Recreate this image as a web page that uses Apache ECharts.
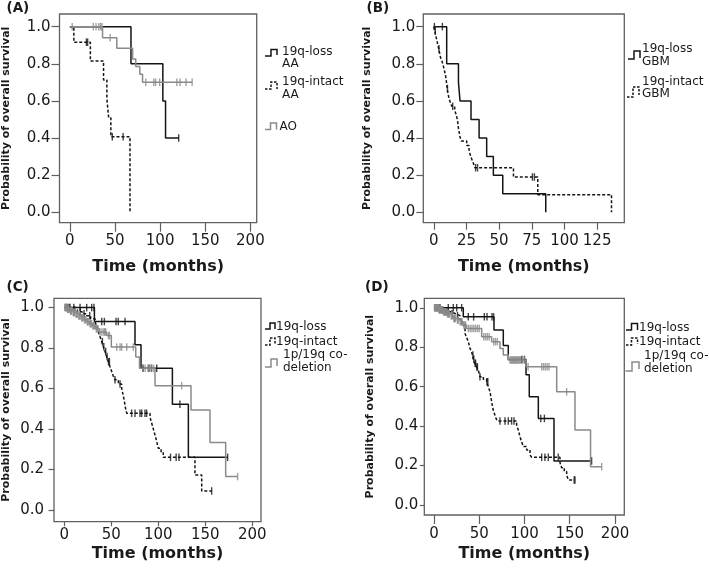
<!DOCTYPE html>
<html><head><meta charset="utf-8">
<script src="https://cdn.jsdelivr.net/npm/echarts@6/dist/echarts.min.js"></script>
<style>html,body{margin:0;padding:0;background:#fff}#c{width:709px;height:569px}</style>
</head><body><div id="c"></div>
<script>
// ---------- tick labels ----------
const tickX200 = [0, 50, 100, 150, 200];
const tickX125 = [0, 25, 50, 75, 100, 125];
const tickY = [0, 0.2, 0.4, 0.6, 0.8, 1.0];

// ---------- Panel A (AA / AO) ----------
const aLossT = [0, 67.7, 103, 106, 120.6];
const aLossS = [1, 0.8, 0.6, 0.4, 0.4];
const aLossC = [120.6];
const aIntactT = [0, 4.4, 22.7, 37.3, 41, 43, 45.4, 66.6];
const aIntactS = [1, 0.916, 0.815, 0.713, 0.611, 0.509, 0.407, 0];
const aIntactC = [18.3, 19.7, 47, 59];
const aAOT = [0, 36.2, 52, 69.5, 73, 77.5, 80.5, 135.5];
const aAOS = [1, 0.94, 0.884, 0.826, 0.785, 0.744, 0.70, 0.70];
const aAOC = [2.6, 26, 29, 32, 34, 35.5, 44.6, 84, 93, 95, 99.5, 118.5, 122, 128.7, 135.5];

// ---------- Panel B (GBM) ----------
const bLossT = [0, 9.9, 18.9, 20.1, 28.5, 34.7, 40.5, 45.6, 52.8, 85.7];
const bLossS = [1, 0.8, 0.7, 0.6, 0.5, 0.4, 0.3, 0.2, 0.1, 0];
const bLossC = [0.5, 6.6];
const bIntactT = [0, 0.8, 1.5, 2.3, 3, 3.8, 4.5, 5.2, 6.5, 7.4, 8.2, 9, 9.5, 9.9, 10.3, 10.8, 11.5, 12.5, 13.8, 16, 17.3, 18, 18.5, 18.9, 19.5, 20.1, 21, 25.2, 27, 27.8, 29, 30.3, 31.5, 61, 79.6, 136];
const bIntactS = [1, 0.976, 0.952, 0.929, 0.905, 0.881, 0.857, 0.833, 0.81, 0.786, 0.762, 0.738, 0.714, 0.69, 0.667, 0.643, 0.619, 0.595, 0.571, 0.548, 0.524, 0.5, 0.476, 0.452, 0.429, 0.405, 0.384, 0.36, 0.336, 0.312, 0.288, 0.264, 0.24, 0.19, 0.095, 0];
const bIntactC = [1.2, 4, 10.5, 14.5, 32, 33.5, 75.5, 77];

// ---------- Panel C ----------
const cLossT = [0, 32, 75.2, 81.6, 115, 132, 173.8];
const cLossS = [1, 0.931, 0.816, 0.70, 0.522, 0.26, 0.26];
const cLossC = [5, 10, 16.7, 23.8, 29.1, 31.5, 39.8, 42.6, 55, 57.4, 64.6, 83.7, 90, 92.7, 98.3, 123, 173.8];
const cIntactT = [0, 8, 14, 19, 24, 28, 32.7, 34.5, 36.2, 38, 39.8, 41.5, 43.3, 45, 46.8, 48.6, 50.4, 52, 53.9, 57.5, 61, 62.5, 64, 65, 66.4, 91.2, 92.5, 94, 95.5, 97, 98.3, 100, 103, 105.3, 139, 146.2, 156.8];
const cIntactS = [1, 0.99, 0.98, 0.97, 0.96, 0.945, 0.931, 0.906, 0.881, 0.856, 0.832, 0.807, 0.783, 0.758, 0.733, 0.708, 0.684, 0.663, 0.643, 0.622, 0.601, 0.57, 0.535, 0.505, 0.478, 0.457, 0.437, 0.412, 0.387, 0.362, 0.338, 0.305, 0.283, 0.26, 0.173, 0.094, 0.094];
const cIntactC = [3, 6, 11, 17, 21, 27, 40.5, 42, 44, 45.5, 47, 48, 53.9, 59.3, 71.6, 75.2, 80.5, 82.3, 85.8, 87.6, 113, 119, 122, 156.8];
const cCodelT = [0, 3, 6, 9, 12, 15, 18, 21, 24, 27, 30, 33, 37, 45, 50, 76, 80, 96.5, 134.8, 155, 171.7, 184.4];
const cCodelS = [1, 0.992, 0.984, 0.976, 0.968, 0.959, 0.95, 0.94, 0.93, 0.92, 0.91, 0.895, 0.88, 0.862, 0.805, 0.756, 0.70, 0.614, 0.494, 0.333, 0.165, 0.165];
const cCodelC = [0.5, 1, 1.5, 2, 2.5, 3.5, 4, 4.5, 5, 6.5, 7, 7.5, 8, 9.5, 10, 10.5, 11, 12.5, 13, 14, 15.5, 16, 17, 18.5, 19, 20, 21.5, 22, 23, 24.5, 25, 26, 27.5, 28, 29, 30.5, 31, 32, 34, 35, 36, 38, 40, 42, 43, 44, 47, 48, 55.7, 59.3, 61, 66.4, 73.4, 86, 89, 91, 93, 95, 124.9, 184.4];

// ---------- Panel D ----------
const dLossT = [0, 32.4, 66.3, 76.6, 82.1, 101.7, 105.3, 115.3, 132.6, 174.2];
const dLossS = [1, 0.954, 0.887, 0.808, 0.738, 0.66, 0.549, 0.439, 0.223, 0.223];
const dLossC = [6.6, 15.8, 21.3, 25.1, 30.6, 37.9, 43.8, 55.6, 58.6, 64.1, 65.9, 97, 100, 118, 122, 174.2];
const dIntactT = [0, 6, 12, 18, 24, 28.7, 31, 34.3, 36, 37.9, 39.8, 41.6, 42.5, 43.5, 45, 47, 49, 50.8, 54.5, 58.2, 60, 61.9, 62.8, 63.7, 64.6, 65.5, 67, 68.5, 70, 91.3, 93.2, 95, 96.8, 98.7, 102.4, 106.1, 107.9, 139.2, 141.1, 144, 146.6, 148.4, 155.8];
const dIntactS = [1, 0.99, 0.98, 0.97, 0.96, 0.94, 0.91, 0.87, 0.85, 0.828, 0.794, 0.776, 0.76, 0.74, 0.718, 0.70, 0.684, 0.65, 0.638, 0.625, 0.60, 0.574, 0.55, 0.524, 0.50, 0.481, 0.46, 0.439, 0.426, 0.405, 0.38, 0.346, 0.321, 0.296, 0.279, 0.253, 0.242, 0.215, 0.189, 0.17, 0.152, 0.127, 0.127];
const dIntactC = [4, 9, 14, 20, 26, 43, 44, 45.5, 46, 47.5, 48, 50.8, 58.5, 59.5, 72.9, 78.5, 82.1, 85.8, 88.4, 119, 122.6, 126.3, 137.3, 154.9, 155.8];
const dCodelT = [0, 5, 10, 14, 18, 21, 25, 28.7, 32, 36, 52.7, 63.7, 72.9, 76.6, 82.1, 101.7, 135.6, 155.8, 173, 185.3];
const dCodelS = [1, 0.99, 0.98, 0.97, 0.96, 0.946, 0.937, 0.929, 0.912, 0.895, 0.853, 0.828, 0.794, 0.76, 0.735, 0.701, 0.574, 0.38, 0.194, 0.194];
const dCodelC = [0.5, 1, 1.5, 2, 2.5, 3, 3.5, 4, 4.5, 5.5, 6, 6.5, 7, 7.5, 8, 8.5, 9, 9.5, 10.5, 11, 11.5, 12, 12.5, 13, 13.5, 15, 15.5, 16, 16.5, 17, 19, 19.5, 20, 22, 22.5, 23, 24, 26, 27, 29, 30, 31, 33, 34, 35, 38, 40, 42, 44, 46, 48, 50, 55, 57, 59, 61, 66, 68, 70, 84, 85, 86, 87, 88, 89, 90, 91, 92, 93, 94, 95, 96, 98, 100, 104, 119, 121, 123, 125, 127, 146.6, 185.3];

// ---------- styling ----------
const BLACK = '#141414', GRAY = '#8a8a8a', TXT = '#1a1a1a', FRAME = '#606060';
const FONT = 'DejaVu Sans';

function steps(T, S) { return T.map((t, i) => [t, S[i]]); }
function valAt(T, S, c) { let v = S[0]; for (let i = 0; i < T.length; i++) { if (T[i] <= c) v = S[i]; } return v; }
function cens(T, S, C) { return C.map(c => [c, valAt(T, S, c)]); }

const panels = [
  { grid: { left: 59.3, top: 14, width: 197.4, height: 208.7 },
    xMin: -11.5, xMax: 207, xTicks: tickX200, yMin: -0.056, yMax: 1.068,
    xTick: 9, yTick: 8, xMargin: 11, yMargin: 9, xGap: 36, yGap: 47.5,
    curves: [
      { T: aLossT, S: aLossS, C: aLossC, color: BLACK, dash: false },
      { T: aIntactT, S: aIntactS, C: aIntactC, color: BLACK, dash: true },
      { T: aAOT, S: aAOS, C: aAOC, color: GRAY, dash: false } ] },
  { grid: { left: 423.3, top: 14, width: 201, height: 208.7 },
    xMin: -8, xMax: 145.8, xTicks: tickX125, yMin: -0.056, yMax: 1.068,
    xTick: 7, yTick: 7, xMargin: 11, yMargin: 8, xGap: 36, yGap: 51,
    curves: [
      { T: bLossT, S: bLossS, C: bLossC, color: BLACK, dash: false },
      { T: bIntactT, S: bIntactS, C: bIntactC, color: BLACK, dash: true } ] },
  { grid: { left: 54, top: 298.3, width: 207, height: 223.4 },
    xMin: -11, xMax: 209.3, xTicks: tickX200, yMin: -0.058, yMax: 1.046,
    xTick: 4.5, yTick: 5.5, xMargin: 6, yMargin: 10, xGap: 24, yGap: 42,
    curves: [
      { T: cLossT, S: cLossS, C: cLossC, color: BLACK, dash: false },
      { T: cIntactT, S: cIntactS, C: cIntactC, color: BLACK, dash: true },
      { T: cCodelT, S: cCodelS, C: cCodelC, color: GRAY, dash: false } ] },
  { grid: { left: 424.3, top: 298.3, width: 200, height: 216.7 },
    xMin: -10.7, xMax: 210.3, xTicks: tickX200, yMin: -0.051, yMax: 1.048,
    xTick: 9, yTick: 4.5, xMargin: 12, yMargin: 6, xGap: 31, yGap: 49,
    curves: [
      { T: dLossT, S: dLossS, C: dLossC, color: BLACK, dash: false },
      { T: dIntactT, S: dIntactS, C: dIntactC, color: BLACK, dash: true },
      { T: dCodelT, S: dCodelS, C: dCodelC, color: GRAY, dash: false } ] }
];

const grids = [], xAxes = [], yAxes = [], series = [];
panels.forEach((p, i) => {
  grids.push(Object.assign({ show: true, borderColor: FRAME, borderWidth: 1.3, backgroundColor: 'transparent' }, p.grid));
  xAxes.push({
    gridIndex: i, type: 'value', min: p.xMin, max: p.xMax,
    axisLine: { show: false, onZero: false },
    axisTick: { show: true, length: p.xTick, customValues: p.xTicks, lineStyle: { color: FRAME, width: 1.2 } },
    axisLabel: { customValues: p.xTicks, margin: p.xMargin, color: TXT, fontSize: 15, fontFamily: FONT },
    splitLine: { show: false },
    name: 'Time (months)', nameLocation: 'middle', nameGap: p.xGap,
    nameTextStyle: { fontWeight: 'bold', fontSize: 16, color: TXT, fontFamily: FONT }
  });
  yAxes.push({
    gridIndex: i, type: 'value', min: p.yMin, max: p.yMax,
    axisLine: { show: false, onZero: false },
    axisTick: { show: true, length: p.yTick, customValues: tickY, lineStyle: { color: FRAME, width: 1.2 } },
    axisLabel: { customValues: tickY, margin: p.yMargin, color: TXT, fontSize: 15, fontFamily: FONT,
      formatter: v => Number(v).toFixed(1) },
    splitLine: { show: false },
    name: 'Probability of overall survival', nameLocation: 'middle', nameGap: p.yGap,
    nameTextStyle: { fontWeight: 'bold', fontSize: 11, color: TXT, fontFamily: FONT }
  });
  p.curves.forEach((c, k) => {
    series.push({
      type: 'line', xAxisIndex: i, yAxisIndex: i, step: 'end', data: steps(c.T, c.S),
      showSymbol: false, silent: true, z: 2 + k,
      lineStyle: { color: c.color, width: 1.5, type: c.dash ? [3, 2] : 'solid' }
    });
    series.push({
      type: 'scatter', xAxisIndex: i, yAxisIndex: i, data: cens(c.T, c.S, c.C),
      symbol: 'rect', symbolSize: [1.4, 7.5], silent: true, z: 2 + k,
      itemStyle: { color: c.color }
    });
  });
});

// ---------- legends & panel labels ----------
function icon(pts, color, dash) {
  return { type: 'polyline', shape: { points: pts }, silent: true,
    style: { stroke: color, lineWidth: 1.5, fill: null, lineDash: dash ? [2.5, 1.5] : null } };
}
function txt(s, x, y, size, bold) {
  return { type: 'text', x: x, y: y, silent: true,
    style: { text: s, fill: TXT, fontSize: size, fontWeight: bold ? 'bold' : 'normal', fontFamily: FONT,
      align: 'left', verticalAlign: 'middle' } };
}
const LG = 12;
const graphics = [
  txt('(A)', 6.5, 8.5, 13.5, true), txt('(B)', 366.5, 8.5, 13.5, true),
  txt('(C)', 6.5, 287, 13.5, true), txt('(D)', 365, 287, 13.5, true),
  // legend A
  icon([[265, 56], [271, 56], [271, 49.5], [277, 49.5], [277, 55]], BLACK, false),
  txt('19q-loss', 282, 51.5, LG), txt('AA', 282, 63.8, LG),
  icon([[265, 89], [271, 89], [271, 82], [277, 82], [277, 89]], BLACK, true),
  txt('19q-intact', 282, 81.5, LG), txt('AA', 282, 95, LG),
  icon([[265, 129.5], [270.5, 129.5], [270.5, 123], [276.5, 123], [276.5, 129.5]], GRAY, false),
  txt('AO', 279.5, 126.7, LG),
  // legend B
  icon([[628, 59], [634, 59], [634, 51], [640, 51], [640, 58]], BLACK, false),
  txt('19q-loss', 642, 49, LG), txt('GBM', 642, 61.5, LG),
  icon([[627, 97], [633, 97], [633, 87], [639, 87], [639, 95]], BLACK, true),
  txt('19q-intact', 642, 81.7, LG), txt('GBM', 642, 94, LG),
  // legend C
  icon([[265, 329], [270, 329], [270, 323], [275, 323], [275, 329]], BLACK, false),
  txt('19q-loss', 276, 326.7, LG),
  icon([[265, 345], [270, 345], [270, 338], [275, 338], [275, 344]], BLACK, true),
  txt('19q-intact', 276, 341.7, LG),
  icon([[265, 367], [271, 367], [271, 359], [277, 359], [277, 366]], GRAY, false),
  txt('1p/19q co-', 283, 355, LG), txt('deletion', 283, 368.3, LG),
  // legend D
  icon([[626, 330], [631.5, 330], [631.5, 323.5], [637.5, 323.5], [637.5, 330]], BLACK, false),
  txt('19q-loss', 639, 327.7, LG),
  icon([[626, 345], [631.5, 345], [631.5, 338], [637.5, 338], [637.5, 344]], BLACK, true),
  txt('19q-intact', 639, 341.7, LG),
  icon([[625.5, 371], [632, 371], [632, 362], [639, 362], [639, 369]], GRAY, false),
  txt('1p/19q co-', 644, 355.7, LG), txt('deletion', 644, 369, LG)
];

const chart = echarts.init(document.getElementById('c'), null, { renderer: 'canvas' });
chart.setOption({
  animation: false,
  backgroundColor: '#ffffff',
  grid: grids, xAxis: xAxes, yAxis: yAxes, series: series,
  graphic: graphics
});
</script></body></html>
